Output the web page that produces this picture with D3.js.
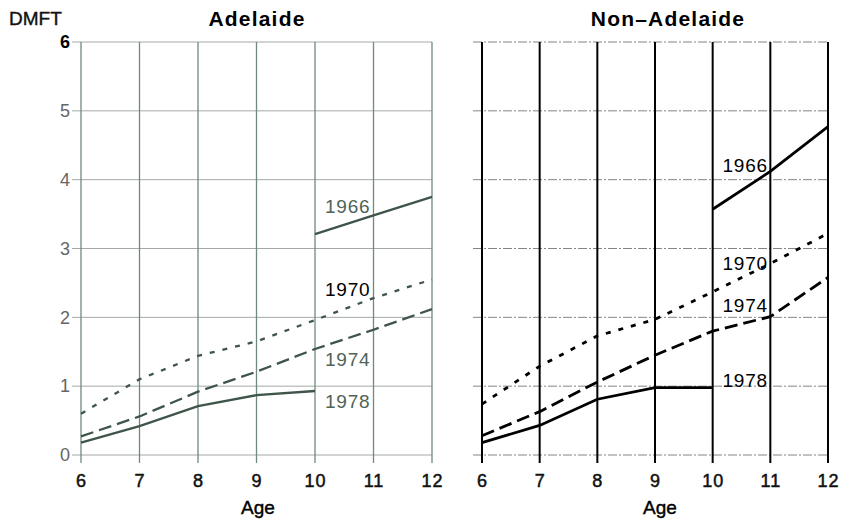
<!DOCTYPE html>
<html>
<head>
<meta charset="utf-8">
<script src="https://cdn.jsdelivr.net/npm/d3@7"></script>
<style>
  body { margin: 0; background: #fff; }
  svg { display: block; font-family: "Liberation Sans", Arial, sans-serif; }
</style>
</head>
<body>
<div id="chart"></div>
<script>
// values
const ages = [6, 7, 8, 9, 10, 11, 12];
const yTicks = [0, 1, 2, 3, 4, 5, 6];
const cohorts = ["1966", "1970", "1974", "1978"];

const adelaide1966 = [null, null, null, null, 3.21, 3.48, 3.75];
const adelaide1970 = [0.60, 1.10, 1.44, 1.65, 1.96, 2.28, 2.55];
const adelaide1974 = [0.27, 0.56, 0.92, 1.21, 1.54, 1.82, 2.12];
const adelaide1978 = [0.18, 0.42, 0.71, 0.87, 0.93, null, null];

const nonAdelaide1966 = [null, null, null, null, 3.57, 4.12, 4.77];
const nonAdelaide1970 = [0.74, 1.29, 1.73, 1.97, 2.37, 2.78, 3.22];
const nonAdelaide1974 = [0.28, 0.63, 1.06, 1.45, 1.80, 2.01, 2.58];
const nonAdelaide1978 = [0.18, 0.43, 0.81, 0.98, 0.98, null, null];

// where the cohort labels sit, in data units (age, DMFT of baseline)
const labelAge = 10.17;
const adelaideLabelY = [3.52, 2.31, 1.29, 0.68];
const nonAdelaideLabelY = [4.11, 2.69, 2.08, 0.99];

const width = 849, height = 524;
const yTop = 42, yBottom = 455;

const dashes = { "1966": null, "1970": "5,8", "1974": "13,6", "1978": null };

const panels = [
  {
    title: "Adelaide", x0: 81, x1: 432, titleX: 257, ageX: 258,
    series: [adelaide1966, adelaide1970, adelaide1974, adelaide1978],
    labelY: adelaideLabelY,
    vGrid: "#6f8a7c", vWidth: 1.3, hGrid: "#a3aaa6", hDash: null, hWidth: 1,
    line: "#3f554a", lineWidth: 2.3,
    labelColor: ["#4f6358", "#000", "#4f6358", "#4f6358"],
    yLabels: true
  },
  {
    title: "Non\u2013Adelaide", x0: 482, x1: 828, titleX: 668, ageX: 660,
    series: [nonAdelaide1966, nonAdelaide1970, nonAdelaide1974, nonAdelaide1978],
    labelY: nonAdelaideLabelY,
    vGrid: "#000", vWidth: 2, hGrid: "#666", hDash: "9,2,2,2", hWidth: 0.8,
    line: "#000", lineWidth: 2.8,
    labelColor: ["#000", "#000", "#000", "#000"],
    yLabels: false
  }
];

const svg = d3.select("#chart").append("svg")
    .attr("width", width)
    .attr("height", height);

svg.append("text")
    .attr("x", 9).attr("y", 25)
    .attr("font-size", 19)
    .attr("fill", "#111")
    .attr("stroke", "#111").attr("stroke-width", 0.4)
    .text("DMFT");

const y = d3.scaleLinear().domain([0, 6]).range([yBottom, yTop]);

panels.forEach(p => {
    const x = d3.scaleLinear().domain([6, 12]).range([p.x0, p.x1]);
    const g = svg.append("g");

    // horizontal grid
    g.selectAll(".hgrid")
      .data(yTicks)
      .join("line")
        .attr("x1", p.x0 - 9).attr("x2", p.x1)
        .attr("y1", d => y(d)).attr("y2", d => y(d))
        .attr("stroke", p.hGrid)
        .attr("stroke-width", p.hWidth)
        .attr("stroke-dasharray", p.hDash);

    // vertical grid
    g.selectAll(".vgrid")
      .data(ages)
      .join("line")
        .attr("x1", d => x(d)).attr("x2", d => x(d))
        .attr("y1", yTop).attr("y2", yBottom + 8)
        .attr("stroke", p.vGrid)
        .attr("stroke-width", p.vWidth);

    // x tick labels
    const xAxis = g.append("g")
        .attr("transform", `translate(0,${yBottom + 7})`)
        .call(d3.axisBottom(x).tickValues(ages).tickSize(0).tickFormat(d3.format("d")));
    xAxis.select(".domain").remove();
    xAxis.selectAll("text")
        .attr("y", 25).attr("dy", 0)
        .attr("font-size", 18)
        .attr("font-family", "Liberation Sans, Arial, sans-serif")
        .attr("letter-spacing", 1)
        .attr("fill", "#111")
        .attr("stroke", "#111").attr("stroke-width", 0.5);

    if (p.yLabels) {
        const yAxis = g.append("g")
            .attr("transform", `translate(${p.x0 - 11},0)`)
            .call(d3.axisLeft(y).tickValues(yTicks).tickSize(0).tickPadding(0).tickFormat(d3.format("d")));
        yAxis.select(".domain").remove();
        yAxis.selectAll("text")
            .attr("font-size", 18)
            .attr("font-family", "Liberation Sans, Arial, sans-serif")
            .attr("fill", d => d === 6 ? "#000" : "#666")
            .attr("font-weight", d => d === 6 ? "bold" : "normal");
    }

    // data lines
    const lineGen = d3.line()
        .defined(d => d.v != null)
        .x(d => x(d.age))
        .y(d => y(d.v));

    p.series.forEach((s, i) => {
        g.append("path")
            .datum(ages.map((a, j) => ({ age: a, v: s[j] })))
            .attr("d", lineGen)
            .attr("fill", "none")
            .attr("stroke", p.line)
            .attr("stroke-width", p.lineWidth)
            .attr("stroke-dasharray", dashes[cohorts[i]]);

        g.append("text")
            .attr("x", x(labelAge))
            .attr("y", y(p.labelY[i]))
            .attr("font-size", 19)
            .attr("letter-spacing", 0.8)
            .attr("fill", p.labelColor[i])
            .text(cohorts[i]);
    });

    // titles
    svg.append("text")
        .attr("x", p.titleX).attr("y", 26)
        .attr("text-anchor", "middle")
        .attr("font-size", 21)
        .attr("font-weight", "bold")
        .attr("letter-spacing", 1.2)
        .attr("fill", "#000")
        .text(p.title);

    svg.append("text")
        .attr("x", p.ageX).attr("y", 514)
        .attr("text-anchor", "middle")
        .attr("font-size", 19)
        .attr("fill", "#000")
        .attr("stroke", "#000").attr("stroke-width", 0.4)
        .text("Age");
});
</script>
</body>
</html>
